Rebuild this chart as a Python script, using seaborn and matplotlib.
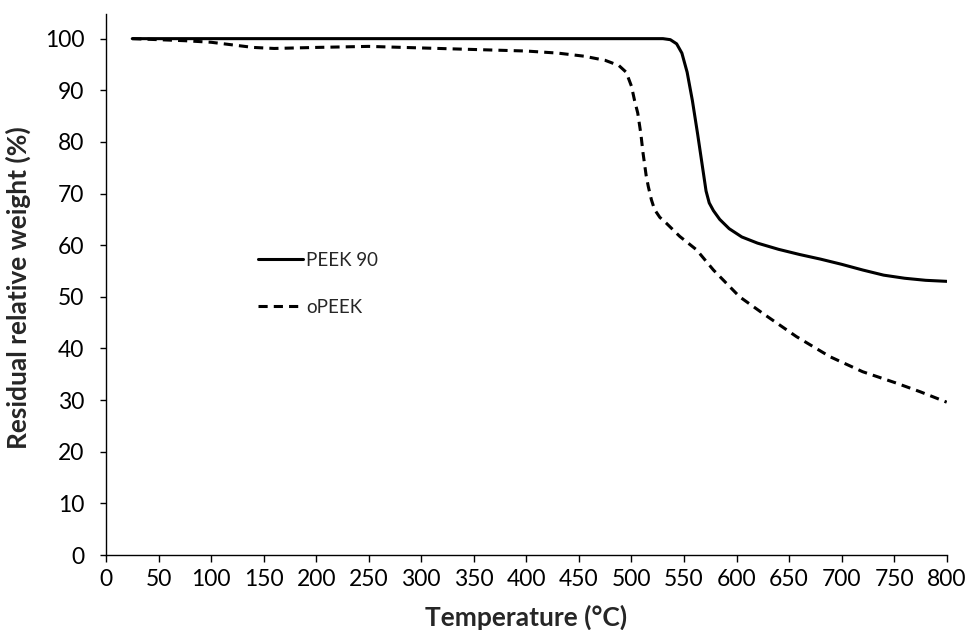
import matplotlib
matplotlib.use("Agg")
import matplotlib.pyplot as plt
import seaborn as sns
import pandas as pd

# data
peek90_temp = [25, 100, 200, 300, 400, 500, 530, 537, 543, 548, 553, 558, 563, 567, 571,
               574, 578, 584, 593, 605, 620, 640, 660, 680, 700, 720, 740, 760, 780, 800]
peek90_wt = [100, 100, 100, 100, 100, 100, 100, 99.8, 99, 97.2, 93.5, 88, 81.5, 76, 70.5,
             68.2, 66.7, 65, 63.2, 61.6, 60.4, 59.2, 58.2, 57.3, 56.3, 55.2, 54.2, 53.6, 53.2, 53.0]

opeek_temp = [25, 50, 75, 100, 120, 140, 160, 200, 250, 300, 350, 400, 430, 455, 475,
              488, 495, 500, 503, 506, 509, 511, 514, 516, 519, 522, 527, 533, 546,
              562, 578, 603, 625, 657, 689, 720, 752, 775, 800]
opeek_wt = [100, 99.8, 99.6, 99.3, 98.8, 98.3, 98.1, 98.3, 98.5, 98.2, 97.9, 97.6, 97.2,
            96.6, 95.8, 94.8, 93.5, 90.8, 88, 85.6, 81.5, 77.9, 73.5, 71.4, 68.8, 66.9,
            65.4, 64.3, 61.7, 59.1, 55.2, 50, 46.8, 42.3, 38.4, 35.5, 33.3, 31.6, 29.6]

x_ticks = list(range(0, 801, 50))
y_ticks = list(range(0, 101, 10))

df1 = pd.DataFrame({"temp": peek90_temp, "wt": peek90_wt})
df2 = pd.DataFrame({"temp": opeek_temp, "wt": opeek_wt})

sns.set_style("ticks")
plt.rcParams["font.family"] = ["Lato", "DejaVu Sans"]

fig, ax = plt.subplots(figsize=(9.68, 6.3), dpi=100)
fig.subplots_adjust(left=0.1095, right=0.978, bottom=0.119, top=0.978)

sns.lineplot(data=df1, x="temp", y="wt", ax=ax, color="black", linewidth=2.2,
             label="PEEK 90")
sns.lineplot(data=df2, x="temp", y="wt", ax=ax, color="black", linewidth=2.2,
             linestyle=(0, (3, 2)), label="oPEEK")

ax.set_xlim(0, 800)
ax.set_ylim(0, 104.8)
ax.set_xticks(x_ticks)
ax.set_yticks(y_ticks)
ax.tick_params(labelsize=16.5, width=1, direction="out", colors="black")
ax.tick_params(axis="x", length=5, pad=5)
ax.tick_params(axis="y", length=4.5, pad=11)
for s in ["top", "right"]:
    ax.spines[s].set_visible(False)
for s in ["left", "bottom"]:
    ax.spines[s].set_color("black")
    ax.spines[s].set_linewidth(1)

ax.set_xlabel("Temperature (°C)", fontsize=19, fontweight="bold")
ax.set_ylabel("Residual relative weight (%)", fontsize=19, fontweight="bold")
ax.xaxis.set_label_coords(0.5, -0.1146)
ax.xaxis.label.set_va("center")
ax.yaxis.set_label_coords(-0.1046, 0.4935)
ax.yaxis.label.set_va("center")

ax.legend(loc="upper left", bbox_to_anchor=(0.181, 0.56), frameon=False, fontsize=13.5,
          handlelength=2.4, handletextpad=0.15, labelspacing=1.6, borderpad=0,
          borderaxespad=0)

plt.savefig("out.png", dpi=100)
